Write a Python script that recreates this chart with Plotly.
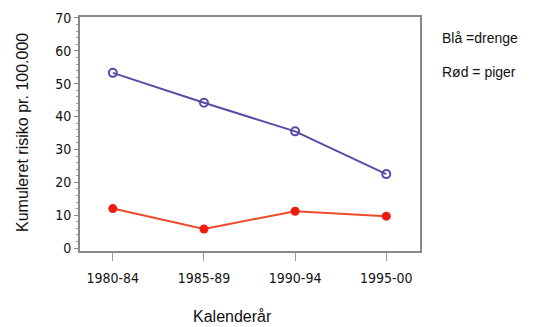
import plotly.graph_objects as go

periods = ["1980-84", "1985-89", "1990-94", "1995-00"]
drenge = [53.3, 44.2, 35.5, 22.5]
piger = [12.0, 5.8, 11.2, 9.7]
y_ticks = [0, 10, 20, 30, 40, 50, 60, 70]

tickfont = dict(family="DejaVu Sans Condensed, Liberation Sans Narrow, Arial", size=14, color="#111")
titlefont = dict(family="Arial, Liberation Sans", size=16, color="#111")

fig = go.Figure()
fig.add_trace(go.Scatter(
    x=list(range(len(periods))), y=drenge, mode="lines+markers",
    line=dict(color="#5a4aa8", width=2),
    marker=dict(symbol="circle-open", size=8, color="#5a4aa8", line=dict(width=2)),
    showlegend=False))
fig.add_trace(go.Scatter(
    x=list(range(len(periods))), y=piger, mode="lines+markers",
    line=dict(color="#f04a2a", width=2),
    marker=dict(symbol="circle", size=9, color="#ee1c10"),
    showlegend=False))

# page has an 8px body margin; figure sized so the plot area lands at x 80-420, y 17-251
fig.update_layout(
    width=534, height=319,
    margin=dict(l=72, r=122, t=9, b=76),
    paper_bgcolor="white", plot_bgcolor="white",
    xaxis=dict(
        range=[-0.36, 3.37], tickvals=list(range(len(periods))), ticktext=periods,
        showgrid=False, zeroline=False, showline=True, linecolor="#888", linewidth=2,
        mirror=True, ticks="outside", ticklen=8, tickcolor="#999", tickwidth=1,
        ticklabelstandoff=5,
        tickfont=tickfont, automargin=False),
    yaxis=dict(
        range=[-0.9, 70.3], tickvals=y_ticks,
        showgrid=False, zeroline=False, showline=True, linecolor="#888", linewidth=2,
        mirror=True, ticks="outside", ticklen=4, tickcolor="#888", tickwidth=1,
        minor=dict(ticks="outside", ticklen=2, dtick=2, tickcolor="#999", tickwidth=1),
        tickfont=tickfont, automargin=False),
)

fig.add_annotation(text="Kalenderår", xref="paper", yref="paper", x=(232 - 80) / 340,
                   y=-(316 - 251) / 234, xanchor="center", yanchor="middle",
                   showarrow=False, font=titlefont)
fig.add_annotation(text="Kumuleret risiko pr. 100.000", xref="paper", yref="paper",
                   x=-(80 - 22) / 340, y=(251 - 133) / 234, xanchor="center", yanchor="middle",
                   textangle=-90, showarrow=False, font=titlefont)
fig.add_annotation(text="Blå =drenge", xref="paper", yref="paper", x=1.058, y=0.91,
                   xanchor="left", yanchor="middle", showarrow=False,
                   font=dict(family="Arial, Liberation Sans", size=14, color="#111"))
fig.add_annotation(text="Rød = piger", xref="paper", yref="paper", x=1.058, y=0.765,
                   xanchor="left", yanchor="middle", showarrow=False,
                   font=dict(family="Arial, Liberation Sans", size=14, color="#111"))

fig.write_html("out.html")
